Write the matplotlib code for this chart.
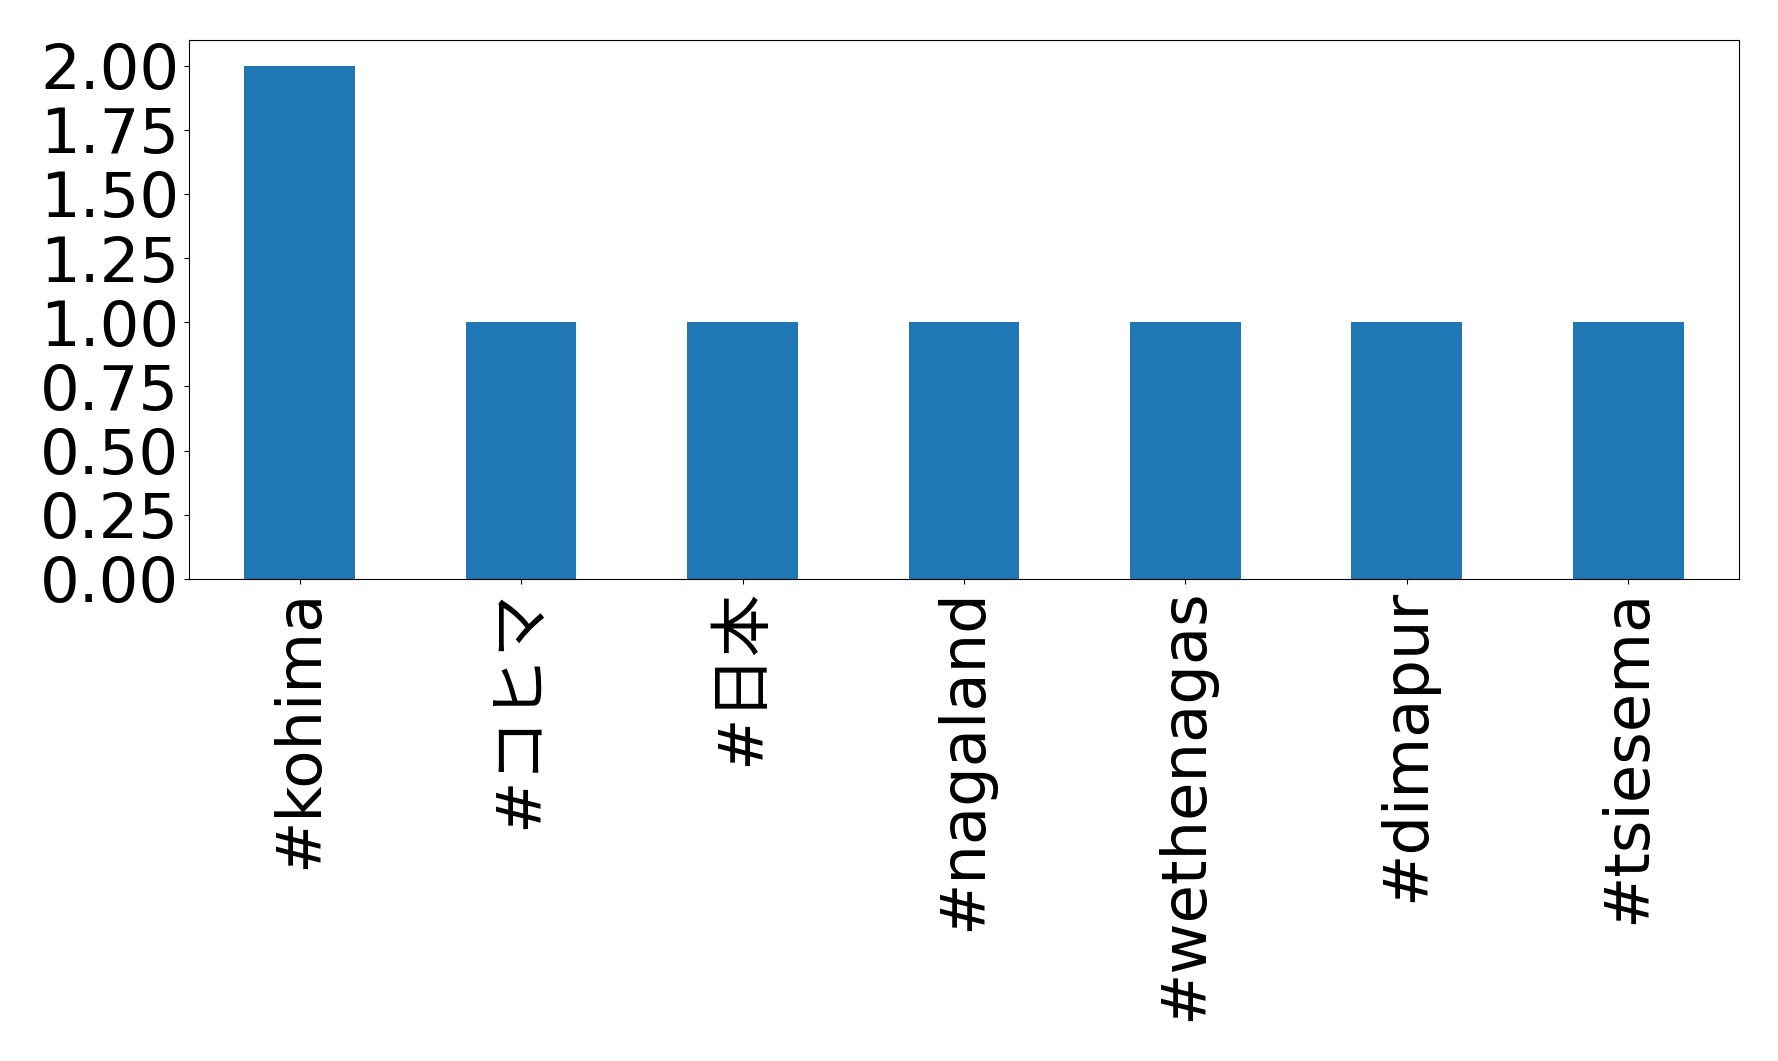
import matplotlib
matplotlib.use("Agg")
import matplotlib.pyplot as plt

plt.rcParams['font.family'] = ['DejaVu Sans', 'Noto Sans CJK JP']

categories = ["#kohima", "#コヒマ", "#日本", "#nagaland", "#wethenagas", "#dimapur", "#tsiesema"]
counts = [2, 1, 1, 1, 1, 1, 1]
yticks = [0, 0.25, 0.5, 0.75, 1.0, 1.25, 1.5, 1.75, 2.0]

fig = plt.figure(figsize=(17.78, 10.61), dpi=100)
ax = fig.add_axes([0.1063, 0.4543, 0.978 - 0.1063, 0.9623 - 0.4543])
x = list(range(len(categories)))
ax.bar(x, counts, width=0.5, color="#1f77b4")
ax.set_xlim(-0.5, len(categories) - 0.5)
ax.set_ylim(0, 2.1)
ax.set_yticks(yticks)
ax.set_yticklabels([f"{v:.2f}" for v in yticks], fontsize=45)
ax.set_xticks(x)
ax.set_xticklabels(categories, rotation=90, fontsize=45)
fig.savefig("out.png", dpi=100)
